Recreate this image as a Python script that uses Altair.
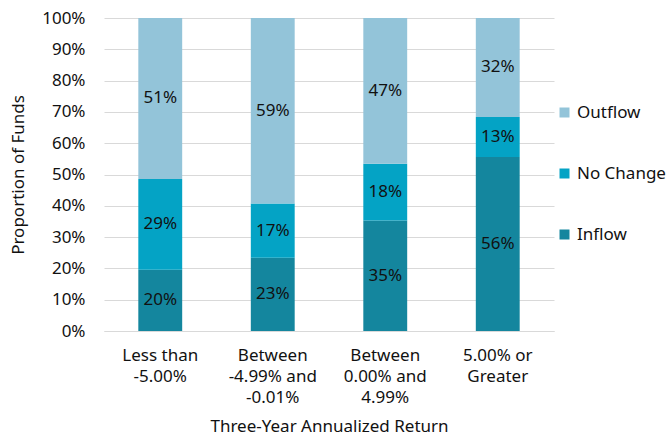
import altair as alt
import pandas as pd

categories = ["Less than -5.00%", "Between -4.99% and -0.01%", "Between 0.00% and 4.99%", "5.00% or Greater"]
cat_lines = [["Less than", "-5.00%"], ["Between", "-4.99% and", "-0.01%"], ["Between", "0.00% and", "4.99%"], ["5.00% or", "Greater"]]
series = ["Inflow", "No Change", "Outflow"]
inflow = [19.6, 23.4, 35.3, 55.6]
no_change = [29.0, 17.3, 18.1, 12.8]
outflow = [51.4, 59.3, 46.6, 31.6]
colors = ["#14869E", "#04A3C5", "#93C4D9"]

rows = []
for i, c in enumerate(categories):
    for j, (s, vals) in enumerate(zip(series, [inflow, no_change, outflow])):
        rows.append({"cat": c, "series": s, "value": vals[i] / 100, "order": j})
df = pd.DataFrame(rows)

label_expr = "{" + ",".join(f'"{k}": {list(v)}' for k, v in zip(categories, cat_lines)) + "}[datum.label]"
label_expr = label_expr.replace("'", '"')

FONT = "Noto Sans"
FS = 17

x_scale = alt.Scale(domain=categories, paddingInner=0.61, paddingOuter=0.305)
x_axis = alt.Axis(title="Three-Year Annualized Return", labelExpr=label_expr, labelAngle=0,
                  labelFontSize=FS, labelLineHeight=21, labelPadding=16, ticks=False,
                  domainColor="#d9d9d9", titleFontSize=FS, titlePadding=13,
                  titleFontWeight="normal", labelColor="#111", titleColor="#111")
y_scale = alt.Scale(domain=[0, 1])
y_axis = alt.Axis(title="Proportion of Funds", format=".0%", values=[i / 10 for i in range(11)],
                  ticks=False, domain=False, labelFontSize=FS, labelPadding=19,
                  gridColor="#d9d9d9", titleFontSize=FS, titleFontWeight="normal",
                  titlePadding=14, labelColor="#111", titleColor="#111")

base = alt.Chart(df)

bars = base.mark_bar().encode(
    x=alt.X("cat:N", sort=categories, scale=x_scale, axis=x_axis),
    y=alt.Y("value:Q", stack="zero", scale=y_scale, axis=y_axis),
    color=alt.Color("series:N", sort=["Outflow", "No Change", "Inflow"],
                    scale=alt.Scale(domain=series, range=colors),
                    legend=alt.Legend(title=None, orient="none", legendX=452, legendY=86,
                                      symbolType="square", symbolSize=100, labelFontSize=FS,
                                      rowPadding=43, labelOffset=4, symbolStrokeWidth=0,
                                      labelColor="#111",
                                      values=["Outflow", "No Change", "Inflow"])),
    order=alt.Order("order:Q"),
)

labels = base.mark_text(fontSize=FS, color="#111", font=FONT).transform_stack(
    stack="value", groupby=["cat"], as_=["v0", "v1"], sort=[alt.SortField("order")]
).transform_calculate(mid="(datum.v0 + datum.v1) / 2").encode(
    x=alt.X("cat:N", sort=categories, scale=x_scale, axis=x_axis),
    y=alt.Y("mid:Q", scale=y_scale, axis=y_axis),
    text=alt.Text("value:Q", format=".0%"),
)

chart = (bars + labels).properties(
    width=450, height=313,
    autosize=alt.AutoSizeParams(type="none"),
    padding={"left": 104, "top": 18, "right": 115, "bottom": 115},
).configure(font=FONT).configure_view(stroke=None)

chart.save("out.html", embed_options={"renderer": "svg", "actions": False})
